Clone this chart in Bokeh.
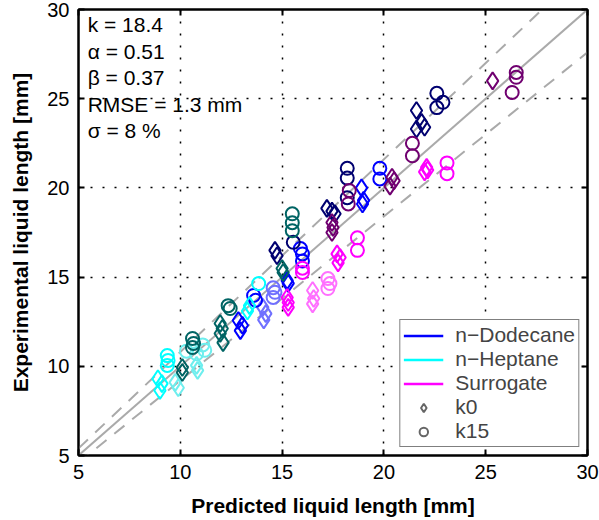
from bokeh.plotting import figure
from bokeh.models import (Range1d, FixedTicker, LinearAxis, Legend, LegendItem, Label,
                          CustomJSTickFormatter)
from bokeh.embed import file_html
from bokeh.resources import INLINE

# ---------------- data (predicted, experimental) ----------------
tick_values = [5, 10, 15, 20, 25, 30]

# n-Dodecane (dark / normal / light shade)
dod_dark_k0_x = [21.6, 21.85, 22.0, 21.6, 17.2, 17.45, 17.6, 14.65, 14.75]
dod_dark_k0_y = [24.34, 23.67, 23.4, 23.3, 18.85, 18.7, 18.55, 16.5, 16.2]
dod_dark_k15_x = [22.6, 22.9, 22.6, 18.2, 18.2, 18.2, 15.55]
dod_dark_k15_y = [25.3, 24.8, 24.5, 21.1, 20.55, 19.45, 16.95]
dod_mid_k0_x = [18.9, 19.0, 18.95, 15.25, 15.3, 12.85, 13.05, 12.95]
dod_mid_k0_y = [20.0, 19.3, 19.1, 14.8, 14.65, 12.57, 12.3, 12.0]
dod_mid_k15_x = [19.8, 19.8, 15.9, 16.0, 16.0, 13.6, 13.7]
dod_mid_k15_y = [21.1, 20.5, 16.6, 16.3, 15.9, 13.97, 13.7]
dod_light_k0_x = [14.05, 14.2, 14.1]
dod_light_k0_y = [13.3, 12.95, 12.6]
dod_light_k15_x = [14.56, 14.65, 14.56]
dod_light_k15_y = [14.4, 14.15, 13.86]

# n-Heptane
hep_dark_k0_x = [15.0, 15.05, 11.96, 12.06, 11.96, 12.1, 10.1, 10.1]
hep_dark_k0_y = [15.48, 15.26, 12.4, 12.12, 11.84, 11.33, 9.93, 9.65]
hep_dark_k15_x = [15.5, 15.5, 15.5, 12.35, 12.45, 10.6, 10.65, 10.6]
hep_dark_k15_y = [18.55, 18.05, 17.6, 13.4, 13.24, 11.56, 11.28, 11.05]
hep_mid_k0_x = [13.3, 13.4, 8.9, 9.1, 9.0]
hep_mid_k0_y = [13.1, 13.4, 9.3, 9.03, 8.64]
hep_mid_k15_x = [13.85, 9.36, 9.4, 9.36]
hep_mid_k15_y = [14.64, 10.6, 10.33, 10.05]
hep_light_k0_x = [10.8, 10.85, 9.75, 9.9]
hep_light_k0_y = [10.05, 9.77, 9.1, 8.8]
hep_light_k15_x = [11.1, 11.2, 10.8, 10.3]
hep_light_k15_y = [11.2, 10.9, 10.7, 10.85]

# Surrogate
sur_dark_k0_x = [25.34, 20.4, 20.5, 20.3, 17.45, 17.5, 17.45]
sur_dark_k0_y = [26.0, 20.6, 20.4, 20.1, 18.06, 17.78, 17.5]
sur_dark_k15_x = [26.5, 26.5, 26.3, 21.4, 21.4, 18.3, 18.25]
sur_dark_k15_y = [26.47, 26.2, 25.35, 22.5, 21.8, 19.85, 19.1]
sur_mid_k0_x = [22.1, 22.15, 22.0, 17.7, 17.85, 17.75, 15.25, 15.3, 15.3]
sur_mid_k0_y = [21.15, 21.0, 20.9, 16.3, 16.1, 15.8, 13.86, 13.58, 13.3]
sur_mid_k15_x = [23.1, 23.1, 18.7, 18.7, 16.0, 16.0]
sur_mid_k15_y = [21.4, 20.8, 17.2, 16.5, 15.5, 15.26]
sur_light_k0_x = [16.5, 16.55, 16.5]
sur_light_k0_y = [14.25, 13.8, 13.5]
sur_light_k15_x = [17.25, 17.35, 17.25]
sur_light_k15_y = [14.92, 14.64, 14.36]

# reference lines
ref_x = [5, 30]
sigma = 0.08

stats_lines = ["k = 18.4", "\u03b1 = 0.51", "\u03b2 = 0.37", "RMSE = 1.3 mm", "\u03c3 = 8 %"]
legend_labels = ["n\u2212Dodecane", "n\u2212Heptane", "Surrogate", "k0", "k15"]

# ---------------- styling ----------------
FONT = "Liberation Sans"
C = {
    "dod_dark": "#000070", "dod_mid": "#0000FF", "dod_light": "#7070FF",
    "hep_dark": "#006464", "hep_mid": "#00FFFF", "hep_light": "#6EEEEE",
    "sur_dark": "#700070", "sur_mid": "#FF00FF", "sur_light": "#FF70FF",
}
NAN = float("nan")

p = figure(width=599, height=520, output_backend="svg", toolbar_location=None,
           x_range=Range1d(5, 30), y_range=Range1d(5, 30),
           min_border_left=78, min_border_right=12, min_border_top=9, min_border_bottom=65,
           x_axis_label="Predicted liquid length [mm]",
           y_axis_label="Experimental liquid length [mm]")
p.background_fill_color = "white"
p.border_fill_color = "white"
p.outline_line_color = "black"
p.outline_line_width = 2

ticker = FixedTicker(ticks=tick_values)
for ax in (p.xaxis[0], p.yaxis[0]):
    ax.ticker = ticker
    ax.axis_line_width = 2
    ax.major_tick_line_width = 2
    ax.major_tick_in = 6
    ax.major_tick_out = 0
    ax.minor_tick_line_color = None
    ax.major_label_text_font = FONT
    ax.major_label_text_font_size = "20px"
    ax.major_label_text_color = "black"
    ax.axis_label_text_font = FONT
    ax.axis_label_text_font_size = "21px"
    ax.axis_label_text_font_style = "bold"
    ax.axis_label_text_color = "black"
p.xaxis[0].major_label_standoff = 9
p.xaxis[0].axis_label_standoff = 12
p.yaxis[0].major_label_standoff = 9
p.yaxis[0].axis_label_standoff = 12

blank = CustomJSTickFormatter(code="return ''")
for place in ("right", "above"):
    ax = LinearAxis(ticker=ticker, formatter=blank, axis_line_width=2, major_tick_line_width=2,
                    major_tick_in=6, major_tick_out=0, minor_tick_line_color=None,
                    major_label_standoff=0)
    p.add_layout(ax, place)

p.grid.ticker = ticker
p.grid.grid_line_color = "black"
p.grid.grid_line_dash = "2 10"
p.grid.grid_line_width = 1.5

# reference lines
p.line(ref_x, ref_x, line_color="#AAAAAA", line_width=2)
p.line(ref_x, [v * (1 + sigma) for v in ref_x], line_color="#AAAAAA", line_width=2, line_dash="13 10")
p.line(ref_x, [v * (1 - sigma) for v in ref_x], line_color="#AAAAAA", line_width=2, line_dash="13 10")

series = [
    ("dod_light", dod_light_k0_x, dod_light_k0_y, dod_light_k15_x, dod_light_k15_y),
    ("hep_light", hep_light_k0_x, hep_light_k0_y, hep_light_k15_x, hep_light_k15_y),
    ("sur_light", sur_light_k0_x, sur_light_k0_y, sur_light_k15_x, sur_light_k15_y),
    ("dod_mid", dod_mid_k0_x, dod_mid_k0_y, dod_mid_k15_x, dod_mid_k15_y),
    ("hep_mid", hep_mid_k0_x, hep_mid_k0_y, hep_mid_k15_x, hep_mid_k15_y),
    ("sur_mid", sur_mid_k0_x, sur_mid_k0_y, sur_mid_k15_x, sur_mid_k15_y),
    ("dod_dark", dod_dark_k0_x, dod_dark_k0_y, dod_dark_k15_x, dod_dark_k15_y),
    ("hep_dark", hep_dark_k0_x, hep_dark_k0_y, hep_dark_k15_x, hep_dark_k15_y),
    ("sur_dark", sur_dark_k0_x, sur_dark_k0_y, sur_dark_k15_x, sur_dark_k15_y),
]
for key, x0, y0, x15, y15 in series:
    p.scatter(x0, y0, marker="diamond", size=17, line_color=C[key], fill_color=None, line_width=2)
    p.scatter(x15, y15, marker="circle", size=13, line_color=C[key], fill_color=None, line_width=2)

# stats text (top-left)
px_per_unit_y = 446 / 25.0
for i, t in enumerate(stats_lines):
    p.add_layout(Label(x=5.45, y=30 - (15 + 26.6 * i) / px_per_unit_y, text=t,
                       text_font=FONT, text_font_size="21px", text_color="black",
                       text_baseline="alphabetic", text_align="left"))

# legend proxies (no visible data)
r_dod = p.line([NAN], [NAN], line_color="#0000FF", line_width=2.5)
r_hep = p.line([NAN], [NAN], line_color="#00FFFF", line_width=2.5)
r_sur = p.line([NAN], [NAN], line_color="#FF00FF", line_width=2.5)
r_k0 = p.scatter([NAN], [NAN], marker="diamond", size=14, line_color="#666666", fill_color=None, line_width=2)
r_k15 = p.scatter([NAN], [NAN], marker="circle", size=12, line_color="#666666", fill_color=None, line_width=2)

legend = Legend(items=[LegendItem(label=lab, renderers=[r])
                       for lab, r in zip(legend_labels, [r_dod, r_hep, r_sur, r_k0, r_k15])],
                location="bottom_right")
legend.margin = 8
legend.padding = 3
legend.spacing = 0
legend.glyph_width = 40
legend.glyph_height = 21
legend.label_height = 21
legend.label_standoff = 12
legend.label_text_font = FONT
legend.label_text_font_size = "21px"
legend.border_line_color = "black"
legend.border_line_width = 1.5
legend.background_fill_color = "white"
legend.background_fill_alpha = 1.0
p.add_layout(legend)

open("out.html", "w").write(file_html(p, INLINE))
